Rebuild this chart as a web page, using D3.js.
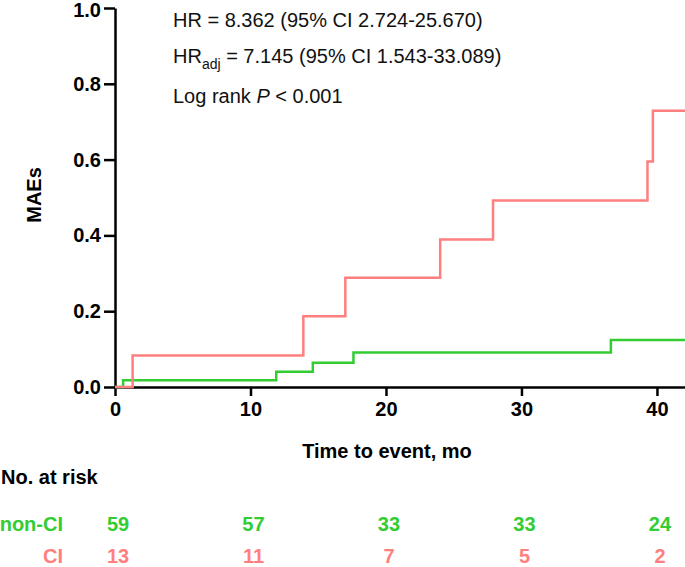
<!DOCTYPE html>
<html>
<head>
<meta charset="utf-8">
<script src="https://cdn.jsdelivr.net/npm/d3@7"></script>
<style>
  body { margin: 0; background: #fff; }
  svg { display: block; font-family: Arial, "Liberation Sans", sans-serif; }
  .axis path, .axis line { stroke: #000; stroke-width: 2.5; }
  .axis text { font-size: 20px; font-weight: bold; fill: #000; }
</style>
</head>
<body>
<svg id="chart" width="685" height="567"></svg>
<script>
// cumulative incidence of MAEs
const ciTimes = [0, 1.3, 13.9, 17.0, 24.0, 27.9, 39.3, 39.7, 42.2];
const ciValues = [0, 0.083, 0.187, 0.288, 0.389, 0.492, 0.595, 0.729, 0.729];
const nonCiTimes = [0, 0.6, 11.9, 14.6, 17.6, 36.6, 42.2];
const nonCiValues = [0, 0.018, 0.040, 0.064, 0.091, 0.124, 0.124];

const xTicks = [0, 10, 20, 30, 40];
const yTicks = [0, 0.2, 0.4, 0.6, 0.8, 1.0];
const riskNonCi = [59, 57, 33, 33, 24];
const riskCi = [13, 11, 7, 5, 2];

const red = "#ff7f7f";
const green = "#33cc33";

const svg = d3.select("#chart");

const x = d3.scaleLinear().domain([0, 42.07]).range([115, 685]);
const y = d3.scaleLinear().domain([0, 1]).range([387, 8]);

svg.append("g").attr("class", "axis")
  .attr("transform", `translate(0,${y(0)})`)
  .call(d3.axisBottom(x).tickValues(xTicks).tickSize(9).tickSizeOuter(0).tickPadding(6).tickFormat(d3.format("d")));

svg.append("g").attr("class", "axis")
  .attr("transform", `translate(${x(0)},0)`)
  .call(d3.axisLeft(y).tickValues(yTicks).tickSize(11).tickSizeOuter(0).tickPadding(3).tickFormat(d3.format(".1f")))
  .selectAll(".tick text")
  .filter(d => d === 1)
  .attr("dy", "0.42em"); // keep the top label inside the page

const line = d3.line()
  .x(d => x(d[0]))
  .y(d => y(d[1]))
  .curve(d3.curveStepAfter);

svg.append("path")
  .datum(d3.zip(nonCiTimes, nonCiValues))
  .attr("fill", "none").attr("stroke", green).attr("stroke-width", 2.5)
  .attr("d", line);

svg.append("path")
  .datum(d3.zip(ciTimes, ciValues))
  .attr("fill", "none").attr("stroke", red).attr("stroke-width", 2.5)
  .attr("d", line);

// axis titles
svg.append("text")
  .attr("transform", "rotate(-90)")
  .attr("x", -195).attr("y", 41)
  .attr("text-anchor", "middle")
  .attr("font-size", 20).attr("font-weight", "bold")
  .text("MAEs");

svg.append("text")
  .attr("x", 387).attr("y", 458)
  .attr("text-anchor", "middle")
  .attr("font-size", 20).attr("font-weight", "bold")
  .text("Time to event, mo");

// annotations
const ann = svg.append("g").attr("font-size", 20).attr("fill", "#111");
ann.append("text").attr("x", 173).attr("y", 27).text("HR = 8.362 (95% CI 2.724-25.670)");
const t2 = ann.append("text").attr("x", 173).attr("y", 63);
t2.append("tspan").text("HR");
t2.append("tspan").attr("font-size", 14).attr("dy", 6).text("adj");
t2.append("tspan").attr("dy", -6).text(" = 7.145 (95% CI 1.543-33.089)");
const t3 = ann.append("text").attr("x", 173).attr("y", 103);
t3.append("tspan").text("Log rank ");
t3.append("tspan").attr("font-style", "italic").text("P");
t3.append("tspan").text(" < 0.001");

// number at risk table
svg.append("text")
  .attr("x", 1).attr("y", 484)
  .attr("font-size", 20).attr("font-weight", "bold")
  .text("No. at risk");

const rows = [
  { label: "non-CI", values: riskNonCi, color: green, y: 531 },
  { label: "CI", values: riskCi, color: red, y: 563 }
];

for (const row of rows) {
  svg.append("text")
    .attr("x", 63).attr("y", row.y)
    .attr("text-anchor", "end")
    .attr("font-size", 20).attr("font-weight", "bold")
    .attr("fill", row.color)
    .text(row.label);
  svg.selectAll(null)
    .data(row.values)
    .join("text")
    .attr("x", (d, i) => x(xTicks[i]) + 3)
    .attr("y", row.y)
    .attr("text-anchor", "middle")
    .attr("font-size", 20).attr("font-weight", "bold")
    .attr("fill", row.color)
    .text(d => d);
}
</script>
</body>
</html>
